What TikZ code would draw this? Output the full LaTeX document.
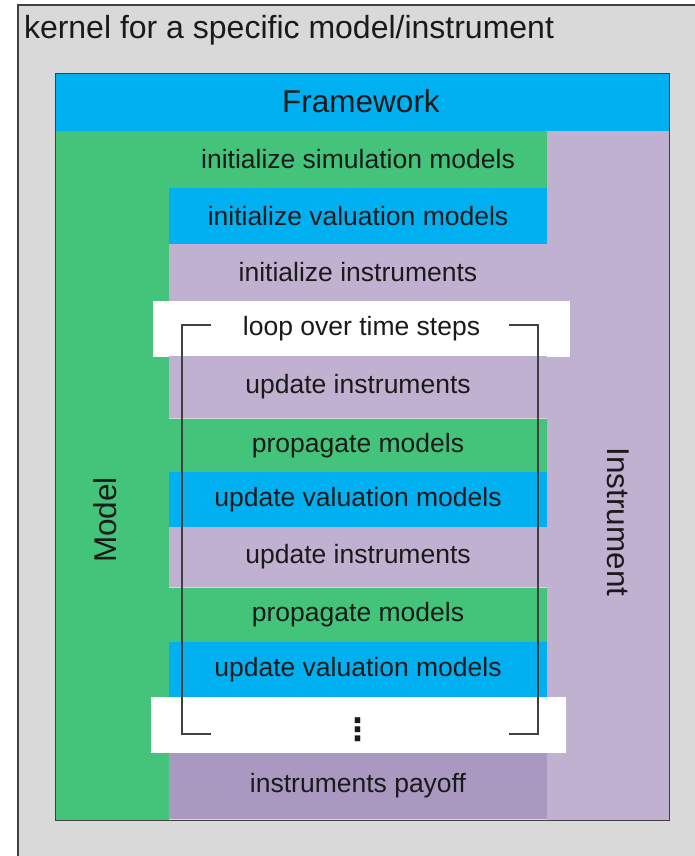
\documentclass[tikz,border=0pt]{standalone}
\usepackage{fontspec}
\setmainfont{Liberation Sans}
\newfontfamily\symfont{DejaVu Sans}
\definecolor{bggray}{HTML}{D9D9D9}
\definecolor{fwblue}{HTML}{00B0F0}
\definecolor{mgreen}{HTML}{44C47B}
\definecolor{ipurple}{HTML}{C1B1D1}
\definecolor{dpurple}{HTML}{A999C1}
\definecolor{edge}{HTML}{404040}
\definecolor{txt}{HTML}{1A1A1A}
\begin{document}
\begin{tikzpicture}[x=1pt,y=-1pt,
  cell/.style={inner sep=0pt, outer sep=0pt, draw=none, text=txt,
    font=\fontsize{26.5}{30}\selectfont, minimum width=378pt},
  big/.style={inner sep=0pt, outer sep=0pt, text=txt, font=\fontsize{31.5}{36}\selectfont},
  col/.style={inner sep=0pt, outer sep=0pt, draw=none},
  bracketline/.style={draw=edge, line width=1.6pt}]
\useasboundingbox (0,0) rectangle (695,856);
\clip (0,0) rectangle (695,856);
% outer kernel box
\node[col, fill=bggray, draw=edge, line width=1.2pt, anchor=north west,
  minimum width=700pt, minimum height=870pt] (kernel) at (18,5) {};
\node[big, anchor=west, font=\fontsize{32}{36}\selectfont] (ktitle) at (24,30) {kernel for a specific model/instrument};
% columns
\node[col, fill=mgreen, minimum width=114pt, minimum height=689pt] (modelcol) at (112,475.5) {};
\node[col, fill=ipurple, minimum width=122pt, minimum height=689pt] (instcol) at (608,475.5) {};
\node[col, fill=fwblue, minimum width=614pt, minimum height=57pt] (framework) at (362,102.5) {};
\node[big] (fwtext) at (361,101) {Framework};
\node[big, rotate=90] (modeltext) at (105,520) {Model};
\node[big, rotate=-90] (insttext) at (618,522) {Instrument};
% rows
\node[cell, fill=mgreen, minimum height=57pt] (r1) at (358,159.5) {initialize simulation models};
\node[cell, fill=fwblue, minimum height=56pt] (r2) at (358,216) {initialize valuation models};
\node[cell, fill=ipurple, minimum height=57pt] (r3) at (358,272.5) {initialize instruments};
\node[cell, fill=white, minimum width=417pt, minimum height=56pt] (loop) at (361.5,329) {loop over time steps};
\node[cell, fill=ipurple, minimum height=62pt] (r4) at (358,387) {update instruments};
\node[cell, fill=mgreen, minimum height=53pt] (r5) at (358,445.5) {propagate models};
\node[cell, fill=fwblue, minimum height=56pt] (r6) at (358,500) {update valuation models};
\node[cell, fill=ipurple, minimum height=60pt] (r7) at (358,557) {update instruments};
\node[cell, fill=mgreen, minimum height=54pt] (r8) at (358,615) {propagate models};
\node[cell, fill=fwblue, minimum height=55pt] (r9) at (358,669.5) {update valuation models};
\node[cell, fill=white, minimum width=415pt, minimum height=56pt] (dotsrow) at (358.5,725) {};
\node[inner sep=0pt, text=txt, font=\symfont\bfseries\fontsize{31}{34}\selectfont] (dots) at (357.5,730) {⋮};
\node[cell, fill=dpurple, minimum height=66pt] (r10) at (358,786) {instruments payoff};
% inner frame border
\draw[edge, line width=1pt] (framework.north west) rectangle (instcol.south east);
% loop bracket
\coordinate (tlend) at (211,325);
\coordinate (tlcorner) at (182,325);
\coordinate (blcorner) at (182,734);
\coordinate (blend) at (211,734);
\coordinate (trend) at (509,325);
\coordinate (trcorner) at (538,325);
\coordinate (brcorner) at (538,734);
\coordinate (brend) at (509,734);
\draw[bracketline] (tlend) -- (tlcorner) -- (blcorner) -- (blend);
\draw[bracketline] (trend) -- (trcorner) -- (brcorner) -- (brend);
\end{tikzpicture}
\end{document}
